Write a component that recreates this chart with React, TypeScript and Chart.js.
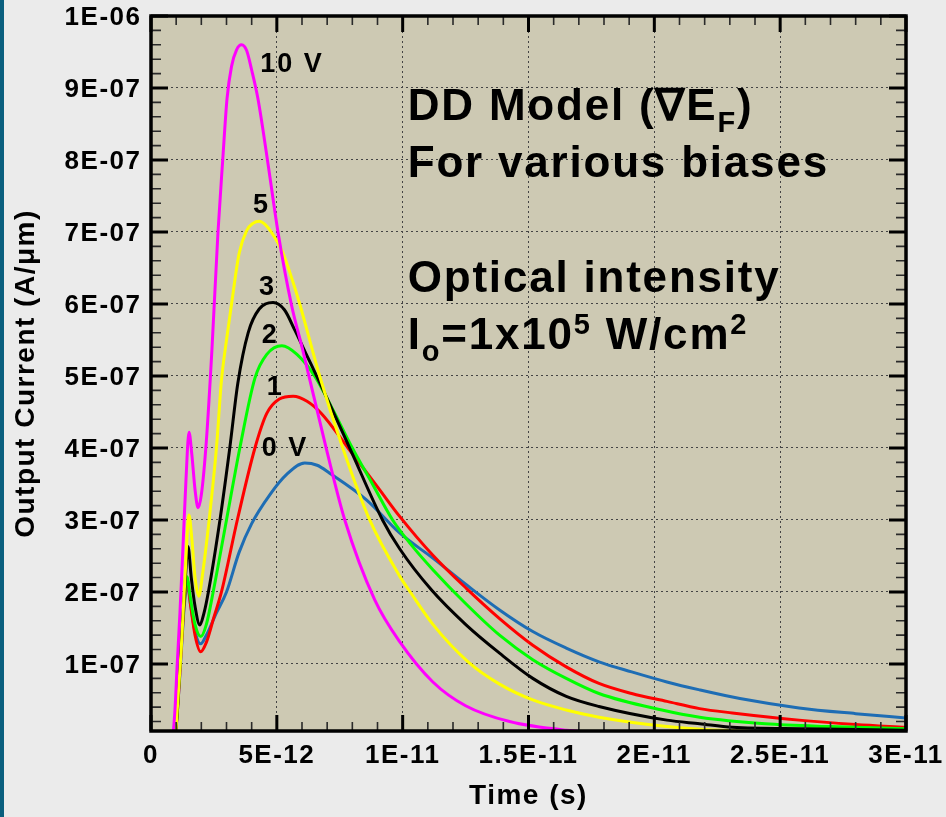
import React, { useEffect, useRef } from "react";
import { Chart, registerables } from "chart.js";

Chart.register(...registerables);

// Time in ps (1E-12 s), output current in units of 1E-07 A/um
const bias10Time = [0, 0.85, 0.95, 1.03, 1.15, 1.27, 1.39, 1.51, 1.62, 1.75, 1.87, 2.0, 2.2, 2.42, 2.66, 2.85, 3.02, 3.2, 3.4, 3.6, 3.8, 4.0, 4.25, 4.64, 5.05, 5.58, 6.03, 6.98, 7.7, 8.89, 9.88, 11.2, 12.5, 14.25, 16.5, 19, 22, 30];
const bias10Current = [0, 0, 0.35, 0.92, 1.71, 2.62, 3.56, 4.22, 3.92, 3.42, 3.17, 3.35, 4.1, 5.36, 6.99, 8.0, 8.85, 9.3, 9.53, 9.6, 9.52, 9.25, 8.85, 7.97, 6.99, 5.99, 5.36, 3.97, 3.0, 1.89, 1.31, 0.75, 0.42, 0.2, 0.08, 0.03, 0.01, 0];

const bias5Time = [0, 0.95, 1.05, 1.2, 1.35, 1.51, 1.62, 1.75, 1.9, 2.05, 2.31, 2.6, 2.8, 3.0, 3.2, 3.5, 3.8, 4.05, 4.3, 4.55, 4.8, 5.24, 5.6, 5.91, 6.7, 7.62, 8.69, 9.88, 10.3, 11.2, 12.6, 13.85, 15.17, 16.5, 17.8, 20.5, 22, 25, 30];
const bias5Current = [0, 0, 0.4, 1.2, 2.2, 3.07, 2.75, 2.2, 1.94, 2.25, 3.0, 4.0, 4.94, 5.5, 6.0, 6.7, 7.02, 7.12, 7.15, 7.1, 6.99, 6.71, 6.35, 6.0, 5.0, 4.0, 3.0, 2.22, 2.0, 1.55, 1.03, 0.72, 0.5, 0.36, 0.26, 0.13, 0.09, 0.05, 0.02];

const bias3Time = [0, 0.95, 1.05, 1.2, 1.35, 1.47, 1.6, 1.75, 1.94, 2.1, 2.28, 2.74, 3.13, 3.45, 3.86, 4.3, 4.85, 5.3, 5.71, 6.2, 6.85, 7.96, 9.2, 9.88, 11.14, 12.53, 13.85, 15.17, 16.5, 17.8, 20.5, 21.8, 23.1, 26, 30];
const bias3Current = [0, 0, 0.4, 1.3, 2.1, 2.63, 2.2, 1.8, 1.54, 1.7, 2.0, 3.0, 4.0, 4.9, 5.6, 5.93, 6.02, 5.92, 5.64, 5.28, 4.8, 3.95, 3.0, 2.6, 2.03, 1.54, 1.15, 0.8, 0.55, 0.41, 0.22, 0.17, 0.12, 0.1, 0.08];

const bias2Time = [0, 0.95, 1.05, 1.2, 1.32, 1.43, 1.55, 1.75, 1.98, 2.2, 2.47, 3.0, 3.53, 4.13, 4.6, 5.2, 5.8, 6.5, 7.2, 8.0, 8.8, 9.6, 10.4, 11.2, 12.5, 13.85, 15.17, 16.5, 17.8, 20.3, 21.8, 24.4, 27, 30];
const bias2Current = [0, 0, 0.4, 1.3, 1.9, 2.21, 1.95, 1.55, 1.38, 1.55, 2.0, 3.0, 4.0, 4.97, 5.3, 5.42, 5.3, 5.0, 4.55, 4.0, 3.5, 3.0, 2.63, 2.31, 1.84, 1.4, 1.06, 0.8, 0.59, 0.36, 0.26, 0.17, 0.13, 0.1];

const bias1Time = [0, 0.95, 1.05, 1.2, 1.32, 1.44, 1.58, 1.75, 1.97, 2.2, 2.5, 2.8, 3.43, 4.13, 4.6, 5.1, 5.65, 6.2, 6.77, 7.83, 9.0, 9.88, 11.2, 12.53, 13.85, 15.17, 16.5, 17.8, 19.1, 20.5, 21.8, 23.1, 25.75, 28, 30];
const bias1Current = [0, 0, 0.35, 1.2, 1.85, 2.17, 1.8, 1.4, 1.17, 1.3, 1.65, 2.0, 3.0, 4.0, 4.48, 4.68, 4.72, 4.65, 4.48, 4.0, 3.46, 3.05, 2.51, 2.05, 1.63, 1.26, 0.96, 0.73, 0.59, 0.48, 0.38, 0.32, 0.22, 0.16, 0.12];

const bias0Time = [0, 0.95, 1.05, 1.2, 1.32, 1.44, 1.58, 1.75, 1.97, 2.2, 2.6, 3.0, 3.5, 4.0, 4.72, 5.38, 6.11, 6.6, 7.1, 8.56, 9.88, 11.2, 12.53, 13.85, 15.17, 16.5, 17.8, 19.1, 20.5, 21.8, 23.4, 25.75, 28, 30];
const bias0Current = [0, 0, 0.35, 1.15, 1.8, 2.1, 1.8, 1.45, 1.28, 1.4, 1.71, 2.0, 2.55, 2.95, 3.35, 3.63, 3.79, 3.76, 3.65, 3.28, 2.82, 2.47, 2.1, 1.75, 1.45, 1.22, 1.03, 0.89, 0.75, 0.64, 0.52, 0.39, 0.31, 0.25];

const seriesNames = ["10 V", "5 V", "3 V", "2 V", "1 V", "0 V"];
const seriesTimes = [bias10Time, bias5Time, bias3Time, bias2Time, bias1Time, bias0Time];
const seriesCurrents = [bias10Current, bias5Current, bias3Current, bias2Current, bias1Current, bias0Current];
const seriesColors = ["#ff00ff", "#ffff00", "#000000", "#00ff00", "#ff0000", "#1e6db4"];

const xMin = 0;
const xMax = 30;
const yMin = 0.069;
const yMax = 10;
const xTickValues = [0, 5, 10, 15, 20, 25, 30];
const xTickLabels = ["0", "5E-12", "1E-11", "1.5E-11", "2E-11", "2.5E-11", "3E-11"];
const yTickValues = [1, 2, 3, 4, 5, 6, 7, 8, 9, 10];
const yTickLabels = ["1E-07", "2E-07", "3E-07", "4E-07", "5E-07", "6E-07", "7E-07", "8E-07", "9E-07", "1E-06"];
const xMinorStep = 1;
const yMinorStep = 0.2;

// curve labels anchored in data coordinates (time ps, current 1E-07)
const curveLabelTexts = ["10 V", "5", "3", "2", "1", "0 V"];
const curveLabelTimes = [4.34, 4.05, 4.29, 4.4, 4.6, 4.4];
const curveLabelCurrents = [9.22, 7.26, 6.125, 5.46, 4.74, 3.89];

// info text: segments [text, kind] kind: n normal, b subscript, p superscript
const infoLines: [string, string][][] = [
  [["DD Model (\u2207E", "n"], ["F", "b"], [")", "n"]],
  [["For various biases", "n"]],
  [["Optical intensity", "n"]],
  [["I", "n"], ["o", "b"], ["=1x10", "n"], ["5", "p"], [" W/cm", "n"], ["2", "p"]],
];
const infoTime = 10.2;
const infoCurrents = [8.56, 7.77, 6.17, 5.38];

const FONT = "'Liberation Sans', Arial, Helvetica, sans-serif";
const PLOT_BG = "#cdc9b3";
const GRID = "#444444";

const decorPlugin = {
  id: "decor",
  beforeDraw(chart: any) {
    const { ctx, chartArea: a } = chart;
    ctx.save();
    ctx.fillStyle = PLOT_BG;
    ctx.fillRect(a.left, a.top, a.right - a.left, a.bottom - a.top);
    ctx.restore();
    ctx.letterSpacing = "1.5px";
  },
  afterDatasetsDraw(chart: any) {
    const { ctx, chartArea: a, scales } = chart;
    const xs = scales.x;
    const ys = scales.y;
    ctx.save();
    ctx.lineCap = "butt";
    // x ticks (bottom & top)
    const nx = Math.round((xs.max - xs.min) / xMinorStep);
    for (let k = 0; k <= nx; k++) {
      const v = xs.min + k * xMinorStep;
      const major = xTickValues.some((t) => Math.abs(t - v) < 1e-6);
      const px = xs.getPixelForValue(v);
      const len = major ? 16 : 9;
      ctx.strokeStyle = major ? "#000" : "#2a2a2a";
      ctx.lineWidth = major ? 3 : 1.6;
      ctx.beginPath();
      ctx.moveTo(px, a.bottom);
      ctx.lineTo(px, a.bottom - len);
      ctx.moveTo(px, a.top);
      ctx.lineTo(px, a.top + len);
      ctx.stroke();
    }
    // y ticks (left & right)
    const k0 = Math.ceil(ys.min / yMinorStep - 1e-6);
    const k1 = Math.floor(ys.max / yMinorStep + 1e-6);
    for (let k = k0; k <= k1; k++) {
      const v = k * yMinorStep;
      const major = yTickValues.some((t) => Math.abs(t - v) < 1e-6);
      const py = ys.getPixelForValue(v);
      const len = major ? 17 : 10;
      ctx.strokeStyle = major ? "#000" : "#2a2a2a";
      ctx.lineWidth = major ? 3 : 1.6;
      ctx.beginPath();
      ctx.moveTo(a.left, py);
      ctx.lineTo(a.left + len, py);
      ctx.moveTo(a.right, py);
      ctx.lineTo(a.right - len, py);
      ctx.stroke();
    }
    // frame
    ctx.strokeStyle = "#000";
    ctx.lineWidth = 3.5;
    ctx.strokeRect(a.left, a.top, a.right - a.left, a.bottom - a.top);

    // curve labels
    ctx.fillStyle = "#000";
    ctx.textAlign = "left";
    ctx.textBaseline = "alphabetic";
    ctx.letterSpacing = "2px";
    ctx.font = `bold 27px ${FONT}`;
    curveLabelTexts.forEach((txt, i) => {
      ctx.fillText(txt, xs.getPixelForValue(curveLabelTimes[i]), ys.getPixelForValue(curveLabelCurrents[i]));
    });

    // info text
    ctx.letterSpacing = "1.8px";
    infoLines.forEach((segs, li) => {
      let cx = xs.getPixelForValue(infoTime);
      const by = ys.getPixelForValue(infoCurrents[li]);
      segs.forEach(([txt, kind]) => {
        const size = kind === "n" ? 44 : 29;
        const dy = kind === "b" ? 12 : kind === "p" ? -15 : 0;
        ctx.font = `bold ${size}px ${FONT}`;
        ctx.fillText(txt, cx, by + dy);
        cx += ctx.measureText(txt).width;
      });
    });
    ctx.restore();
  },
};

export default function App() {
  const ref = useRef<HTMLCanvasElement | null>(null);

  useEffect(() => {
    if (!ref.current) return;
    const datasets = seriesNames.map((name, i) => ({
      label: name,
      data: seriesTimes[i].map((t, j) => ({ x: t, y: seriesCurrents[i][j] })),
      borderColor: seriesColors[i],
      backgroundColor: seriesColors[i],
      borderWidth: 3,
      pointRadius: 0,
      fill: false,
      cubicInterpolationMode: "monotone" as const,
    }));
    const tickFont = { family: FONT, size: 26, weight: "bold" as const };
    const titleFont = { family: FONT, size: 28, weight: "bold" as const };
    const chart = new Chart(ref.current, {
      type: "line",
      data: { datasets },
      options: {
        responsive: false,
        animation: false,
        devicePixelRatio: 1,
        layout: { padding: { left: 0, top: 16, right: 40, bottom: 0 } },
        plugins: { legend: { display: false }, tooltip: { enabled: false } },
        scales: {
          x: {
            type: "linear",
            min: xMin,
            max: xMax,
            afterBuildTicks: (s: any) => {
              s.ticks = xTickValues.map((value) => ({ value }));
            },
            afterFit: (s: any) => {
              s.height = 86;
              s.paddingLeft = 0;
              s.paddingRight = 0;
            },
            ticks: {
              autoSkip: false,
              maxRotation: 0,
              minRotation: 0,
              padding: 9,
              color: "#000",
              font: tickFont,
              callback: (_v: any, i: number) => xTickLabels[i],
            },
            grid: { color: GRID, lineWidth: 1, drawTicks: false },
            border: { display: false, dash: [2, 3] },
            title: {
              display: true,
              text: "Time (s)",
              color: "#000",
              font: titleFont,
              padding: { top: 0, bottom: 4 },
            },
          },
          y: {
            type: "linear",
            min: yMin,
            max: yMax,
            afterBuildTicks: (s: any) => {
              s.ticks = yTickValues.map((value) => ({ value }));
            },
            afterFit: (s: any) => {
              s.width = 151;
              s.paddingTop = 0;
              s.paddingBottom = 0;
            },
            ticks: {
              autoSkip: false,
              padding: 9.5,
              labelOffset: 2,
              color: "#000",
              font: tickFont,
              callback: (_v: any, i: number) => yTickLabels[i],
            },
            grid: { color: GRID, lineWidth: 1, drawTicks: false },
            border: { display: false, dash: [2, 3] },
            title: {
              display: true,
              text: "Output Current (A/\u03bcm)",
              color: "#000",
              font: titleFont,
              padding: { top: 9, bottom: 0 },
            },
          },
        },
      },
      plugins: [decorPlugin],
    } as any);
    return () => chart.destroy();
  }, []);

  return (
    <div style={{ position: "absolute", left: 0, top: 0, width: 946, height: 817, background: "#ebebeb", overflow: "hidden" }}>
      <div style={{ position: "absolute", left: 0, top: 0, width: 4, height: 817, background: "#0a5f7e" }} />
      <canvas ref={ref} width={946} height={817} style={{ position: "absolute", left: 0, top: 0, width: 946, height: 817 }} />
    </div>
  );
}
